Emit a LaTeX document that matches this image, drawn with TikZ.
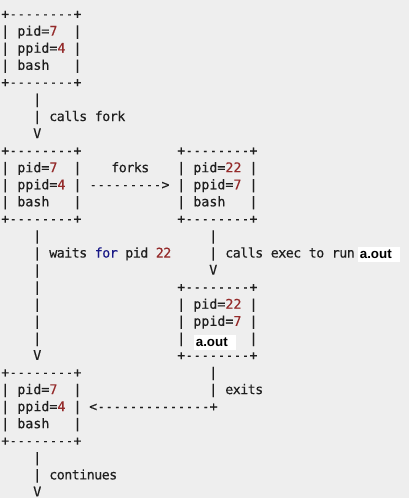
\documentclass[tikz,border=0pt]{standalone}
\usepackage{fontspec}
\usepackage{xcolor}
\usepackage{tikz}
\setmonofont[FakeBold=0.3]{DejaVu Sans Mono}
\newfontfamily\notefont[LetterSpace=-4,FakeBold=0.3]{DejaVu Sans Mono}
\newfontfamily\outfont{Liberation Sans}

\definecolor{bgcol}{RGB}{238,238,238}
\definecolor{txtcol}{RGB}{30,30,30}
\definecolor{numcol}{RGB}{148,42,42}
\definecolor{kwcol}{RGB}{25,25,135}

\newcommand{\numtxt}[1]{\textcolor{numcol}{#1}}
\newcommand{\kwtxt}[1]{\textcolor{kwcol}{#1}}
\newcommand{\asciirows}[1]{\begin{tabular}[t]{@{}l@{}}#1\end{tabular}}
% a short hyphen in a full character cell
\newcommand{\dsh}{\makebox[0.602em]{\scalebox{0.8}[1]{-}}}
\newcommand{\dashes}[1]{\foreach \i in {1,...,#1}{\dsh}}
\newcommand{\edgerow}{+\dashes{8}+}

\tikzset{
	ascii/.style={font=\ttfamily\fontsize{10}{12.8}\selectfont, text=txtcol, inner sep=0pt, anchor=base west},
	note/.style={font=\notefont\fontsize{10}{12.8}\selectfont, text=txtcol, inner sep=0pt, anchor=base west},
	outbox/.style={fill=white, font=\outfont\bfseries\fontsize{10}{12}\selectfont, text=black, text width=28.1pt, align=left, inner xsep=1.7pt, inner ysep=0pt, text height=8.6pt, text depth=2pt, anchor=base west}
}

\begin{document}
\begin{tikzpicture}[x=6pt, y=-12.8pt]
	% one unit = one character cell, rows count downwards
	\useasboundingbox (-0.125,-1.09) rectangle (51,28.09);
	\fill[bgcol] (-0.125,-1.09) rectangle (51,28.09);

	% parent before fork
	\node[ascii] (bash1) at (0,0) {\asciirows{\edgerow\\|~pid=\numtxt{7}~~|\\|~ppid=\numtxt{4}~|\\|~bash~~~|\\\edgerow}};
	\node[ascii] (fork) at (4,5) {\asciirows{|\\|\\V}};
	\node[note] (forktxt) at (6,6) {calls fork};

	% parent and child after fork
	\node[ascii] (bash2) at (0,8) {\asciirows{\edgerow\\|~pid=\numtxt{7}~~|\\|~ppid=\numtxt{4}~|\\|~bash~~~|\\\edgerow}};
	\node[ascii] (child) at (22,8) {\asciirows{\edgerow\\|~pid=\numtxt{22}~|\\|~ppid=\numtxt{7}~|\\|~bash~~~|\\\edgerow}};
	\node[note] (forkstxt) at (13.75,9) {forks};
	\node[ascii] (forkarr) at (11,10) {\dashes{9}>};

	% parent waits, child execs
	\node[ascii] (wait) at (4,13) {\asciirows{|\\|\\|\\|\\|\\|\\|\\V}};
	\node[note] (waittxt) at (6,14) {waits \kwtxt{for} pid \numtxt{22}};
	\node[ascii] (exec) at (26,13) {\asciirows{|\\|\\V}};
	\node[note] (exectxt) at (28,14) {calls exec to run};
	\node[outbox] (out1) at (44.54,14.08) {a.out};

	\node[ascii] (aout) at (22,16) {\asciirows{\edgerow\\|~pid=\numtxt{22}~|\\|~ppid=\numtxt{7}~|\\|~~~~~~~~|\\\edgerow}};
	\node[outbox] (out2) at (24.04,19.24) {a.out};

	% child exits, parent goes on
	\node[ascii] (exit) at (26,21) {\asciirows{|\\|}};
	\node[note] (exittxt) at (28,22) {exits};
	\node[ascii] (exitarr) at (11,23) {<\dashes{14}+};
	\node[ascii] (bash3) at (0,21) {\asciirows{\edgerow\\|~pid=\numtxt{7}~~|\\|~ppid=\numtxt{4}~|\\|~bash~~~|\\\edgerow}};
	\node[ascii] (cont) at (4,26) {\asciirows{|\\|\\V}};
	\node[note] (conttxt) at (6,27) {continues};
\end{tikzpicture}
\end{document}
